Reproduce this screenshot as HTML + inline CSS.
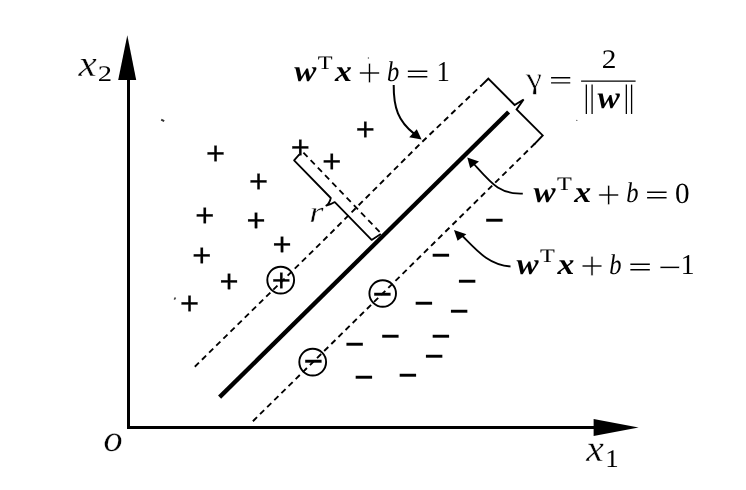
<!DOCTYPE html>
<html lang="en">
<head>
<meta charset="utf-8">
<title>SVM margin diagram</title>
<style>
html,body{margin:0;padding:0;background:#fff;}
body{width:746px;height:490px;overflow:hidden;}
svg{display:block;filter:blur(0.35px);}
text{fill:#000;text-rendering:geometricPrecision;}
.bi{font-family:"Liberation Serif", serif;font-weight:bold;font-style:italic;}
.r{font-family:"Liberation Serif", serif;font-weight:normal;font-style:normal;}
.i{font-family:"Liberation Serif", serif;font-weight:normal;font-style:italic;}
.s{font-family:"Liberation Sans", sans-serif;font-weight:normal;font-style:normal;}
.sb{font-family:"Liberation Sans", sans-serif;font-weight:bold;font-style:normal;}
</style>
</head>
<body>
<svg width="746" height="490" viewBox="0 0 746 490">
<rect x="0" y="0" width="746" height="490" fill="#fff"/>

<!-- axes -->
<path d="M128.5 79 V427.5 H595" fill="none" stroke="#000" stroke-width="3.0" stroke-linejoin="miter"/>
<polygon points="127.3,35.2 118.2,80 136.2,80" fill="#000"/>
<polygon points="638.6,427.6 593.6,419 593.6,436" fill="#000"/>
<!-- thick separating line -->
<line x1="219.6" y1="397.1" x2="508.6" y2="112.0" stroke="#000" stroke-width="4.3"/>
<!-- dashed margins -->
<polyline points="194.8,366.7 320,243.9 421.2,142.8 481,85.6" fill="none" stroke="#000" stroke-width="1.9" stroke-dasharray="5.8 4.2"/>
<line x1="252.9" y1="421.2" x2="535" y2="143.5" stroke="#000" stroke-width="1.9" stroke-dasharray="5.8 4.2"/>
<!-- gamma brace -->
<path d="M480.5 86.4 L488.3 78.7 L514.6 105 L523.6 99.5 L516.6 109.4 L542.7 135.4 L534 144.6" fill="none" stroke="#000" stroke-width="1.9" stroke-linejoin="miter"/>
<!-- r brace -->
<path d="M299.4 154.3 L294.1 160.4 L330.8 198 Q329.5 203.5 326.3 205.6 Q331 204.5 334.8 202.1 L371.6 239.9 L380.8 234" fill="none" stroke="#000" stroke-width="1.8" stroke-linejoin="round"/>
<line x1="303.4" y1="152.6" x2="381.2" y2="233.6" stroke="#000" stroke-width="1.8" stroke-dasharray="6 4.4"/>
<!-- fraction bar -->
<line x1="581.1" y1="81.1" x2="635.6" y2="81.1" stroke="#000" stroke-width="1.3"/>
<!-- circles -->
<circle cx="280.7" cy="280.1" r="13.4" fill="none" stroke="#000" stroke-width="1.9"/>
<circle cx="382.7" cy="293.5" r="13.3" fill="none" stroke="#000" stroke-width="1.9"/>
<circle cx="312.7" cy="362.1" r="13.4" fill="none" stroke="#000" stroke-width="1.9"/>
<!-- scan specks -->
<line x1="161.2" y1="119.6" x2="164.2" y2="121.1" stroke="#333" stroke-width="2"/>
<line x1="174.3" y1="299.6" x2="175.5" y2="297.5" stroke="#444" stroke-width="1.6"/>
<circle cx="368.4" cy="58" r="0.7" fill="#555"/>
<circle cx="576.8" cy="120.4" r="0.7" fill="#666"/>
<!-- curved arrows -->
<path d="M393.7 85 C393.5 108 398.5 121.5 414 133.6" fill="none" stroke="#000" stroke-width="2"/>
<polygon points="421.6,139.5 409.2,137.3 416.8,129.2" fill="#000"/>
<path d="M522.8 193.6 C500 194.5 492 184 474 164" fill="none" stroke="#000" stroke-width="1.8"/>
<polygon points="467.3,157.5 470.2,168.3 479,161.6" fill="#000"/>
<path d="M510.5 266.5 C488 264.8 476.5 250 461 234.5" fill="none" stroke="#000" stroke-width="1.8"/>
<polygon points="454,229.9 457.6,240.7 466.4,234.3" fill="#000"/>

<g>
<text class="bi" font-size="30.21" transform="matrix(1.0967 0 0.0000 1.0000 294.20 80.70)">w</text>
<text class="r" font-size="19.08" transform="matrix(1.2703 0 0.0000 1.0000 317.68 68.50)">T</text>
<text class="bi" font-size="30.00" transform="matrix(1.1282 0 0.0000 1.0000 335.02 80.80)">x</text>
<text class="r" stroke="#fff" stroke-width="0.60" paint-order="fill stroke" font-size="42.15" transform="matrix(1.0102 0 0.0000 1.0000 357.57 87.32)">+</text>
<text class="i" font-size="28.65" transform="matrix(0.8554 0 0.0000 1.0000 386.88 80.71)">b</text>
<text class="r" font-size="27.20" transform="matrix(1.5417 0 0.0000 1.0000 405.80 82.74)">=</text>
<text class="r" font-size="28.79" transform="matrix(0.9263 0 0.0000 1.0000 436.47 80.80)">1</text>
</g><g>
<text class="bi" font-size="30.21" transform="matrix(1.0967 0 0.0000 1.0000 533.50 202.20)">w</text>
<text class="r" font-size="19.08" transform="matrix(1.2703 0 0.0000 1.0000 556.98 190.00)">T</text>
<text class="bi" font-size="30.00" transform="matrix(1.1282 0 0.0000 1.0000 574.32 202.30)">x</text>
<text class="r" stroke="#fff" stroke-width="0.60" paint-order="fill stroke" font-size="42.15" transform="matrix(1.0102 0 0.0000 1.0000 596.87 208.82)">+</text>
<text class="i" font-size="28.65" transform="matrix(0.8554 0 0.0000 1.0000 626.18 202.21)">b</text>
<text class="r" font-size="27.20" transform="matrix(1.5417 0 0.0000 1.0000 645.10 204.24)">=</text>
<text class="r" font-size="29.33" transform="matrix(0.9947 0 0.0000 1.0000 675.01 202.61)">0</text>
</g><g>
<text class="bi" font-size="30.21" transform="matrix(1.0967 0 0.0000 1.0000 516.60 273.80)">w</text>
<text class="r" font-size="19.08" transform="matrix(1.2703 0 0.0000 1.0000 540.08 261.60)">T</text>
<text class="bi" font-size="30.00" transform="matrix(1.1282 0 0.0000 1.0000 557.42 273.90)">x</text>
<text class="r" stroke="#fff" stroke-width="0.60" paint-order="fill stroke" font-size="42.15" transform="matrix(1.0102 0 0.0000 1.0000 579.97 280.42)">+</text>
<text class="i" font-size="28.65" transform="matrix(0.8554 0 0.0000 1.0000 609.28 273.81)">b</text>
<text class="r" font-size="27.20" transform="matrix(1.5417 0 0.0000 1.0000 628.20 275.84)">=</text>
<text class="r" stroke="#fff" stroke-width="0.50" paint-order="fill stroke" font-size="41.51" transform="matrix(1.0000 0 0.0000 1.0000 657.97 280.60)">−</text>
<text class="r" font-size="28.94" transform="matrix(0.9509 0 0.0000 1.0000 680.69 273.90)">1</text>
</g><g>
<text class="i" stroke="#fff" stroke-width="0.50" paint-order="fill stroke" font-size="30.04" transform="matrix(1.2832 0 0.2823 1.0000 528.66 87.67)">γ</text>
<text class="r" font-size="26.00" transform="matrix(1.5881 0 0.0000 1.0000 549.04 88.99)">=</text>
<text class="r" font-size="26.72" transform="matrix(1.0973 0 0.0000 1.0000 601.85 67.80)">2</text>
<text class="r" font-size="32.31" transform="matrix(0.8048 0 0.0000 1.0000 583.70 107.35)">|</text>
<text class="r" font-size="32.31" transform="matrix(0.8048 0 0.0000 1.0000 589.40 107.35)">|</text>
<text class="bi" font-size="31.70" transform="matrix(1.0546 0 0.0000 1.0000 597.40 107.68)">w</text>
<text class="r" font-size="32.31" transform="matrix(0.8048 0 0.0000 1.0000 623.70 107.35)">|</text>
<text class="r" font-size="32.31" transform="matrix(0.8048 0 0.0000 1.0000 629.10 107.35)">|</text>
</g><g>
<text class="i" stroke="#fff" stroke-width="0.30" paint-order="fill stroke" font-size="37.17" transform="matrix(1.1059 0 0.0000 1.0000 78.56 75.95)">x</text>
<text class="r" font-size="22.34" transform="matrix(1.2790 0 0.0000 1.0000 97.79 81.20)">2</text>
<text class="i" stroke="#fff" stroke-width="0.30" paint-order="fill stroke" font-size="37.39" transform="matrix(1.0579 0 0.0000 1.0000 586.24 461.25)">x</text>
<text class="r" font-size="25.45" transform="matrix(1.0588 0 0.0000 1.0000 605.34 467.10)">1</text>
<text class="i" stroke="#fff" stroke-width="0.25" paint-order="fill stroke" font-size="36.98" transform="matrix(1.0294 0 0.0000 1.0000 103.53 451.06)">o</text>
<text class="i" stroke="#fff" stroke-width="0.40" paint-order="fill stroke" font-size="30.21" transform="matrix(1.2113 0 0.0000 1.0000 309.14 221.70)">r</text>
</g><g>
<text class="s" stroke="#000" stroke-width="0.25" font-size="31.73" transform="matrix(1.0310 0 0.0000 1.0000 206.07 164.45)">+</text>
<text class="s" stroke="#000" stroke-width="0.25" font-size="31.73" transform="matrix(1.0310 0 0.0000 1.0000 248.97 191.85)">+</text>
<text class="s" stroke="#000" stroke-width="0.25" font-size="31.73" transform="matrix(1.0310 0 0.0000 1.0000 290.77 157.85)">+</text>
<text class="s" stroke="#000" stroke-width="0.25" font-size="31.73" transform="matrix(1.0310 0 0.0000 1.0000 322.27 172.15)">+</text>
<text class="s" stroke="#000" stroke-width="0.25" font-size="31.73" transform="matrix(1.0310 0 0.0000 1.0000 355.87 140.35)">+</text>
<text class="s" stroke="#000" stroke-width="0.25" font-size="31.73" transform="matrix(1.0310 0 0.0000 1.0000 195.27 225.65)">+</text>
<text class="s" stroke="#000" stroke-width="0.25" font-size="31.73" transform="matrix(1.0310 0 0.0000 1.0000 246.47 231.35)">+</text>
<text class="s" stroke="#000" stroke-width="0.25" font-size="31.73" transform="matrix(1.0310 0 0.0000 1.0000 192.37 265.65)">+</text>
<text class="s" stroke="#000" stroke-width="0.25" font-size="31.73" transform="matrix(1.0310 0 0.0000 1.0000 272.57 255.15)">+</text>
<text class="s" stroke="#000" stroke-width="0.25" font-size="31.73" transform="matrix(1.0310 0 0.0000 1.0000 219.57 291.95)">+</text>
<text class="s" stroke="#000" stroke-width="0.25" font-size="31.73" transform="matrix(1.0310 0 0.0000 1.0000 180.07 313.75)">+</text>
<text class="s" stroke="#000" stroke-width="0.25" font-size="31.73" transform="matrix(1.0310 0 0.0000 1.0000 271.77 291.15)">+</text>
</g><g>
<text class="s" font-size="41.38" transform="matrix(0.8172 0 0.0000 1.0000 484.41 234.31)">−</text>
<text class="s" font-size="41.38" transform="matrix(0.8172 0 0.0000 1.0000 430.91 268.91)">−</text>
<text class="s" font-size="41.38" transform="matrix(0.8172 0 0.0000 1.0000 457.21 295.31)">−</text>
<text class="s" font-size="41.38" transform="matrix(0.8172 0 0.0000 1.0000 414.01 316.91)">−</text>
<text class="s" font-size="41.38" transform="matrix(0.8172 0 0.0000 1.0000 449.21 324.91)">−</text>
<text class="s" font-size="41.38" transform="matrix(0.8172 0 0.0000 1.0000 344.71 358.41)">−</text>
<text class="s" font-size="41.38" transform="matrix(0.8172 0 0.0000 1.0000 380.41 350.01)">−</text>
<text class="s" font-size="41.38" transform="matrix(0.8172 0 0.0000 1.0000 431.11 350.01)">−</text>
<text class="s" font-size="41.38" transform="matrix(0.8172 0 0.0000 1.0000 424.31 369.51)">−</text>
<text class="s" font-size="41.38" transform="matrix(0.8172 0 0.0000 1.0000 353.91 390.91)">−</text>
<text class="s" font-size="41.38" transform="matrix(0.8172 0 0.0000 1.0000 398.11 388.71)">−</text>
<text class="s" font-size="41.38" transform="matrix(0.8172 0 0.0000 1.0000 372.41 307.51)">−</text>
<text class="s" font-size="41.38" transform="matrix(0.8172 0 0.0000 1.0000 303.61 375.31)">−</text>
</g>
</svg>
</body>
</html>
